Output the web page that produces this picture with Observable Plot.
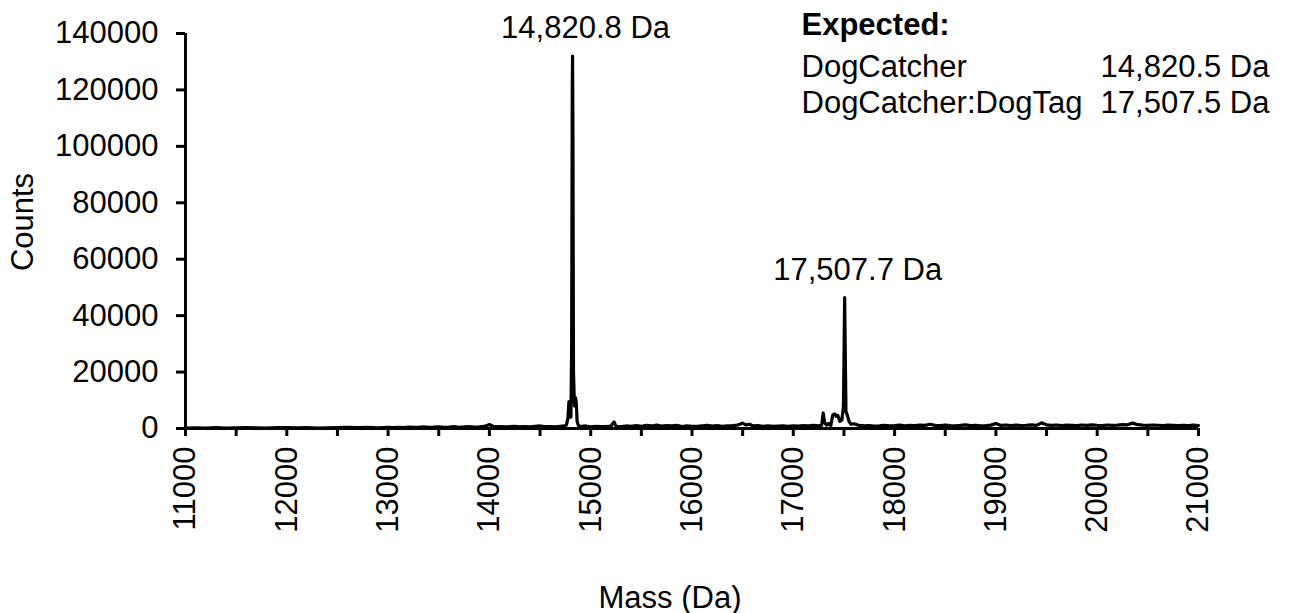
<!DOCTYPE html>
<html>
<head>
<meta charset="utf-8">
<script src="https://cdn.jsdelivr.net/npm/d3@7"></script>
<script src="https://cdn.jsdelivr.net/npm/@observablehq/plot@0.6"></script>
<style>
  html, body { margin: 0; padding: 0; background: #fff; }
  #chart svg { display: block; }
</style>
</head>
<body>
<div id="chart"></div>
<script>
// Spectrum: mass (Da) and counts
const masses = [
  11000, 11100, 11200, 11300, 11400, 11500, 11600, 11700, 11800, 11900,
  12000, 12100, 12200, 12300, 12400, 12500, 12600, 12700, 12800, 12900,
  13000, 13050, 13100, 13150, 13200, 13250, 13300, 13350, 13400, 13450,
  13500, 13550, 13600, 13650, 13700, 13750, 13800, 13850, 13900, 13950,
  14000, 14030, 14050, 14100, 14150, 14200, 14250, 14300, 14350, 14400,
  14450, 14500, 14550, 14600, 14650, 14700, 14740, 14760, 14775, 14785,
  14795, 14805, 14812, 14818, 14821, 14825, 14830, 14840, 14850, 14858,
  14866, 14880, 14900, 14950, 15000, 15050, 15100, 15150, 15200, 15230,
  15250, 15300, 15350, 15400, 15450, 15500, 15550, 15600, 15650, 15700,
  15750, 15800, 15850, 15900, 15950, 16000, 16050, 16100, 16150, 16200,
  16250, 16300, 16350, 16400, 16450, 16500, 16530, 16570, 16600, 16650,
  16700, 16750, 16800, 16850, 16900, 16950, 17000, 17050, 17100, 17150,
  17200, 17250, 17280, 17295, 17310, 17330, 17350, 17370, 17390, 17410,
  17425, 17440, 17460, 17480, 17495, 17502, 17507, 17512, 17520, 17535,
  17550, 17570, 17600, 17650, 17700, 17750, 17800, 17850, 17900, 17950,
  18000, 18050, 18100, 18150, 18200, 18250, 18300, 18350, 18400, 18450,
  18500, 18550, 18600, 18650, 18700, 18750, 18800, 18850, 18900, 18950,
  19000, 19050, 19100, 19150, 19200, 19250, 19300, 19350, 19400, 19450,
  19500, 19550, 19600, 19650, 19700, 19750, 19800, 19850, 19900, 19950,
  20000, 20050, 20100, 20150, 20200, 20250, 20300, 20350, 20400, 20450,
  20500, 20550, 20600, 20650, 20700, 20750, 20800, 20850, 20900, 20950,
  21000
];
const counts = [
  150, 200, 120, 300, 180, 250, 320, 200, 150, 280,
  350, 220, 300, 180, 260, 350, 420, 300, 380, 250,
  400, 300, 450, 350, 500, 380, 420, 550, 400, 480,
  600, 420, 500, 650, 450, 550, 700, 500, 600, 750,
  1400, 900, 600, 700, 550, 650, 800, 600, 700, 550,
  750, 900, 650, 700, 600, 750, 900, 1200, 3500, 9500,
  7000, 4000, 30000, 120000, 132000, 100000, 20000, 8000, 11000, 9000,
  2500, 1000, 700, 900, 600, 800, 700, 650, 900, 2300,
  800, 650, 900, 750, 1000, 800, 1100, 900, 1200, 850,
  1000, 950, 1100, 700, 900, 750, 800, 950, 1100, 850,
  1000, 800, 950, 1000, 1200, 1900, 1300, 1500, 900, 1000,
  800, 900, 750, 850, 900, 800, 950, 850, 1000, 900,
  1100, 950, 1200, 5500, 2000, 1200, 1800, 1000, 4800, 5200,
  4300, 4600, 2500, 3000, 8000, 30000, 46400, 30000, 6000, 4500,
  2500, 1500, 1700, 1100, 900, 1000, 850, 950, 1100, 900,
  1000, 1200, 950, 1100, 1000, 1200, 1100, 1500, 1100, 1000,
  1200, 1050, 950, 1100, 1300, 1000, 1150, 950, 1050, 1200,
  1800, 1100, 1250, 1000, 1200, 1050, 1150, 1300, 1100, 2000,
  1300, 1100, 1250, 1050, 1200, 1100, 1000, 1250, 1100, 1300,
  1150, 1050, 1250, 1100, 1200, 1400, 1300, 1900, 1350, 1200,
  1100, 1250, 1150, 1050, 1200, 1100, 1000, 1150, 1050, 1200,
  1000
];

// Peak annotations
const peakMasses = [14821, 17507];
const peakCounts = [132000, 46400];
const peakLabels = ["14,820.8 Da", "17,507.7 Da"];

// Expected masses box
const expectedTitle = "Expected:";
const expectedNames = ["DogCatcher", "DogCatcher:DogTag"];
const expectedValues = ["14,820.5 Da", "17,507.5 Da"];

// Axis ticks
const xTicks = d3.range(11000, 21001, 1000);
const xMinorTicks = d3.range(11500, 21000, 1000);
const yTicks = d3.range(0, 140001, 20000);

const spectrum = masses.map((m, i) => ({mass: m, count: counts[i]}));
const peaks = peakMasses.map((m, i) => ({mass: m, count: peakCounts[i], label: peakLabels[i]}));

const FS = 31;
const marks = [
  Plot.line(spectrum, {x: "mass", y: "count", stroke: "#000", strokeWidth: 3.2, strokeLinejoin: "round"}),
  Plot.axisY(yTicks, {tickSize: 9, tickPadding: 18, strokeWidth: 3, tickFormat: d3.format("d"), label: null, fontSize: FS}),
  Plot.axisX(xTicks, {tickSize: 8, tickPadding: 10, strokeWidth: 3, tickRotate: -90, tickFormat: d3.format("d"), label: null, fontSize: FS}),
  Plot.axisX(xMinorTicks, {tickSize: 8, strokeWidth: 3, text: null, label: null}),
  Plot.ruleX([11000], {stroke: "#000", strokeWidth: 3}),
  Plot.ruleY([0], {stroke: "#000", strokeWidth: 3}),
  Plot.text(peaks, {x: "mass", y: "count", text: "label", lineAnchor: "bottom", dy: -18, dx: 13, fontSize: FS}),
  Plot.text(["Counts"], {text: d => d, frameAnchor: "left", textAnchor: "middle", rotate: -90, dx: -162, dy: -9, fontSize: FS}),
  Plot.text(["Mass (Da)"], {text: d => d, frameAnchor: "bottom", textAnchor: "middle", lineAnchor: "bottom", dy: 179, dx: -22, fontSize: FS}),
  Plot.text([expectedTitle], {text: d => d, frameAnchor: "top-left", textAnchor: "start", lineAnchor: "bottom", dx: 616, dy: 1, fontWeight: "bold", fontSize: FS}),
  ...expectedNames.map((name, i) => Plot.text([name], {text: d => d, frameAnchor: "top-left", textAnchor: "start", lineAnchor: "bottom", dx: 616, dy: 43 + 36 * i, fontSize: FS})),
  ...expectedValues.map((val, i) => Plot.text([val], {text: d => d, frameAnchor: "top-right", textAnchor: "end", lineAnchor: "bottom", dx: 71, dy: 43 + 36 * i, fontSize: FS}))
];

const chart = Plot.plot({
  width: 1289,
  height: 613,
  marginLeft: 185,
  marginRight: 91,
  marginTop: 33,
  marginBottom: 185,
  x: {domain: [11000, 21000]},
  y: {domain: [0, 140000]},
  style: {fontFamily: "'Liberation Sans', Arial, sans-serif", fontSize: FS + "px", color: "#000", background: "#fff"},
  marks
});
document.getElementById("chart").appendChild(chart);
</script>
</body>
</html>
